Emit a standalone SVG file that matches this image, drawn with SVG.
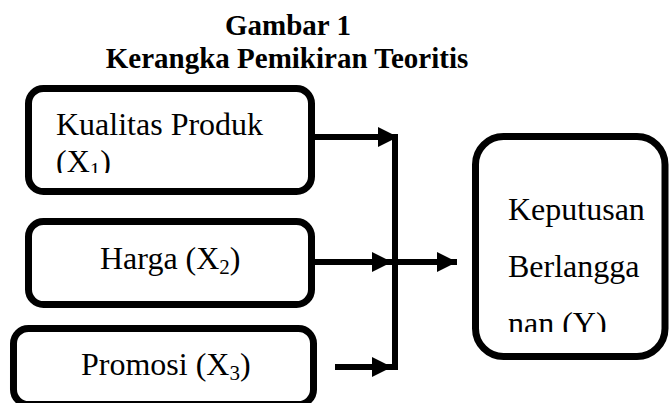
<svg xmlns="http://www.w3.org/2000/svg" width="669" height="403" viewBox="0 0 669 403">
<style>
.box{fill:#fff;stroke:#000;stroke-width:7}
.t{font-family:"Liberation Serif","Times New Roman",serif;font-size:32px;fill:#000}
.ttl{font-family:"Liberation Serif","Times New Roman",serif;font-size:29px;font-weight:bold;fill:#000;text-anchor:middle}
.ln{stroke:#000;stroke-width:6;fill:none}
.sub{font-size:21px}
</style>
<defs>
<marker id="ah" markerUnits="userSpaceOnUse" markerWidth="20" markerHeight="20" refX="20" refY="10" orient="auto">
<path d="M0,0 L20,10 L0,20 Z" fill="#000"/>
</marker>
<clipPath id="c1"><rect x="0" y="0" width="669" height="173"/></clipPath>
<clipPath id="c4"><rect x="0" y="0" width="669" height="332"/></clipPath>
</defs>
<g id="title">
<text class="ttl" x="288" y="35">Gambar 1</text>
<text class="ttl" x="287" y="68">Kerangka Pemikiran Teoritis</text>
</g>
<g id="node-x1">
<rect class="box" x="28.5" y="88.5" width="283" height="103" rx="15"/>
<g clip-path="url(#c1)">
<text class="t" x="56" y="135">Kualitas Produk</text>
<text class="t" x="56" y="172">(X<tspan class="sub" dy="5">1</tspan><tspan dy="-5">)</tspan></text>
</g>
</g>
<g id="node-x2">
<rect class="box" x="28.5" y="221.5" width="283" height="83" rx="15"/>
<text class="t" x="100" y="269">Harga (X<tspan class="sub" dy="5">2</tspan><tspan dy="-5">)</tspan></text>
</g>
<g id="node-x3">
<rect class="box" x="13.5" y="328.5" width="300" height="76" rx="15"/>
<text class="t" x="81" y="375">Promosi (X<tspan class="sub" dy="5">3</tspan><tspan dy="-5">)</tspan></text>
</g>
<g id="node-y">
<rect class="box" x="475.5" y="136.5" width="189.5" height="220" rx="28"/>
<g clip-path="url(#c4)">
<text class="t" x="508" y="220">Keputusan</text>
<text class="t" x="508" y="277">Berlangga</text>
<text class="t" x="508" y="334">nan (Y)</text>
</g>
</g>
<g id="connectors">
<line class="ln" x1="395" y1="134" x2="395" y2="370"/>
<line class="ln" x1="315" y1="137" x2="398" y2="137" marker-end="url(#ah)"/>
<line class="ln" x1="315" y1="262" x2="392" y2="262" marker-end="url(#ah)"/>
<line class="ln" x1="335" y1="367" x2="392" y2="367" marker-end="url(#ah)"/>
<line class="ln" x1="395" y1="262" x2="457" y2="262" marker-end="url(#ah)"/>
</g>
</svg>
